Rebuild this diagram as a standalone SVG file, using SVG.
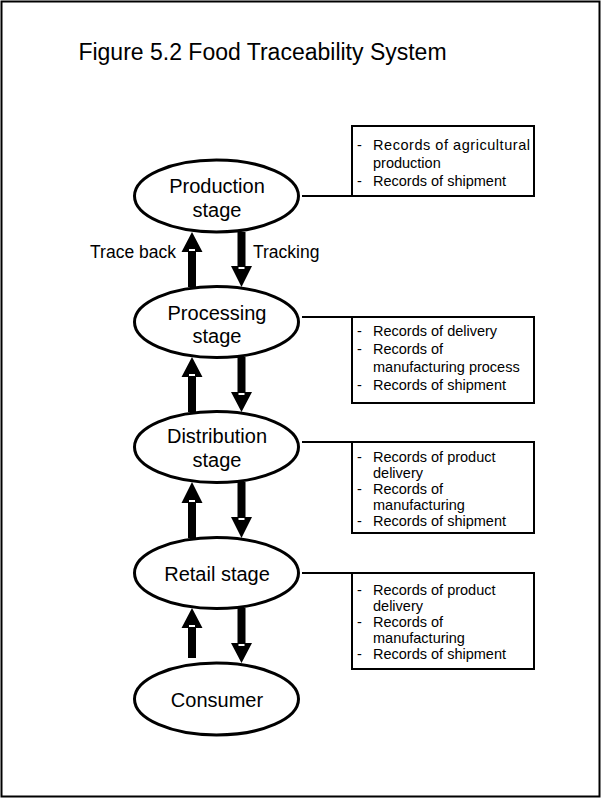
<svg xmlns="http://www.w3.org/2000/svg" width="602" height="798" viewBox="0 0 602 798">
<style>
text{font-family:"Liberation Sans",Arial,sans-serif;fill:#000}
.title{font-size:23px;text-anchor:middle}
.node ellipse{fill:#fff;stroke:#000;stroke-width:3}
.lbl{font-size:20px;text-anchor:middle}
.box rect{fill:#fff;stroke:#000;stroke-width:2}
.box text{font-size:14.5px}
.side{font-size:17.5px}
.link{stroke:#000;stroke-width:2;fill:none}
.arr{fill:#000}
.mark{fill:#fff}
</style>
<rect x="1.5" y="1.5" width="598" height="795" fill="#fff" stroke="#000" stroke-width="2"/>
<text class="title" x="262.5" y="60">Figure 5.2 Food Traceability System</text>

<g id="production" class="node">
<ellipse cx="216.5" cy="196" rx="82" ry="36"/>
<text class="lbl" x="217" y="193">Production</text>
<text class="lbl" x="217" y="217">stage</text>
</g>
<g id="processing" class="node">
<ellipse cx="216.5" cy="322" rx="82" ry="35.5"/>
<text class="lbl" x="217" y="320">Processing</text>
<text class="lbl" x="217" y="343">stage</text>
</g>
<g id="distribution" class="node">
<ellipse cx="216.5" cy="447" rx="82" ry="35.5"/>
<text class="lbl" x="217" y="443">Distribution</text>
<text class="lbl" x="217" y="467">stage</text>
</g>
<g id="retail" class="node">
<ellipse cx="216.5" cy="573" rx="82" ry="35.5"/>
<text class="lbl" x="217" y="581">Retail stage</text>
</g>
<g id="consumer" class="node">
<ellipse cx="216.5" cy="699" rx="82" ry="36"/>
<text class="lbl" x="217" y="707">Consumer</text>
</g>

<g id="box-production" class="box">
<rect x="352" y="126" width="182" height="70"/>
<text x="357" y="150">-</text>
<text x="373" y="150" textLength="157" lengthAdjust="spacing">Records of agricultural</text>
<text x="373" y="168">production</text>
<text x="357" y="186">-</text>
<text x="373" y="186">Records of shipment</text>
</g>
<g id="box-processing" class="box">
<rect x="352" y="317" width="182" height="86"/>
<text x="357" y="336">-</text>
<text x="373" y="336">Records of delivery</text>
<text x="357" y="354">-</text>
<text x="373" y="354">Records of</text>
<text x="373" y="372">manufacturing process</text>
<text x="357" y="390">-</text>
<text x="373" y="390">Records of shipment</text>
</g>
<g id="box-distribution" class="box">
<rect x="352" y="442" width="182" height="91"/>
<text x="357" y="462">-</text>
<text x="373" y="462">Records of product</text>
<text x="373" y="478">delivery</text>
<text x="357" y="494">-</text>
<text x="373" y="494">Records of</text>
<text x="373" y="510">manufacturing</text>
<text x="357" y="526">-</text>
<text x="373" y="526">Records of shipment</text>
</g>
<g id="box-retail" class="box">
<rect x="352" y="573" width="182" height="96"/>
<text x="357" y="595">-</text>
<text x="373" y="595">Records of product</text>
<text x="373" y="611">delivery</text>
<text x="357" y="627">-</text>
<text x="373" y="627">Records of</text>
<text x="373" y="643">manufacturing</text>
<text x="357" y="659">-</text>
<text x="373" y="659">Records of shipment</text>
</g>

<g id="connectors">
<line class="link" x1="302" y1="196" x2="352" y2="196"/>
<line class="link" x1="302" y1="317" x2="352" y2="317"/>
<line class="link" x1="302" y1="442" x2="352" y2="442"/>
<line class="link" x1="302" y1="573" x2="352" y2="573"/>

<path class="arr" d="M188,287 V252 H181.5 L192,232 L202.5,252 H196 V287 Z"/>
<rect class="mark" x="189" y="249" width="6" height="2"/>
<path class="arr" d="M237.5,232 V266 H231 L241.5,287 L252,266 H245.5 V232 Z"/>
<rect class="mark" x="238.5" y="267" width="6" height="2"/>

<path class="arr" d="M188,412 V377 H181.5 L192,357 L202.5,377 H196 V412 Z"/>
<rect class="mark" x="189" y="374" width="6" height="2"/>
<path class="arr" d="M237.5,357 V392 H231 L241.5,412 L252,392 H245.5 V357 Z"/>
<rect class="mark" x="238.5" y="393" width="6" height="2"/>

<path class="arr" d="M188,538 V503 H181.5 L192,482 L202.5,503 H196 V538 Z"/>
<rect class="mark" x="189" y="500" width="6" height="2"/>
<path class="arr" d="M237.5,482 V517 H231 L241.5,538 L252,517 H245.5 V482 Z"/>
<rect class="mark" x="238.5" y="518" width="6" height="2"/>

<path class="arr" d="M188,658 V628 H181.5 L192,608 L202.5,628 H196 V658 Z"/>
<rect class="mark" x="189" y="625" width="6" height="2"/>
<path class="arr" d="M237.5,608 V643 H231 L241.5,663 L252,643 H245.5 V608 Z"/>
<rect class="mark" x="238.5" y="644" width="6" height="2"/>

<text class="side" x="176" y="258" text-anchor="end">Trace back</text>
<text class="side" x="253" y="258">Tracking</text>
</g>
</svg>
